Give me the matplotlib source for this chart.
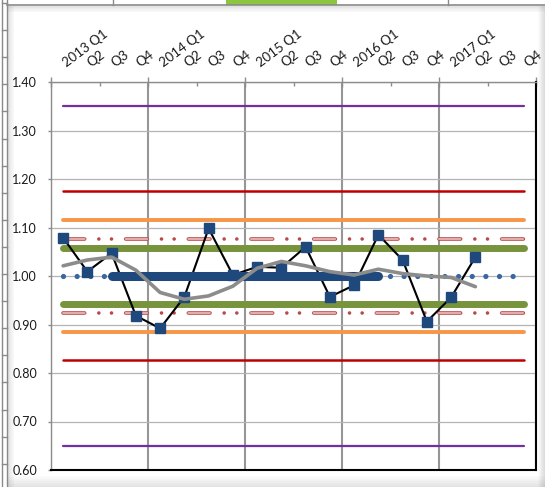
import matplotlib
matplotlib.use('Agg')
import matplotlib.pyplot as plt
import matplotlib.transforms as mtransforms
from matplotlib.patches import Rectangle
import numpy as np

plt.rcParams['font.family'] = ['Lato', 'DejaVu Sans']
plt.rcParams['lines.scale_dashes'] = False

# ---- data ----
quarters = ['2013 Q1', 'Q2', 'Q3', 'Q4',
            '2014 Q1', 'Q2', 'Q3', 'Q4',
            '2015 Q1', 'Q2', 'Q3', 'Q4',
            '2016 Q1', 'Q2', 'Q3', 'Q4',
            '2017 Q1', 'Q2', 'Q3', 'Q4']
index_values = [1.079, 1.009, 1.047, 0.918, 0.892, 0.957, 1.098, 1.002, 1.019,
                1.017, 1.060, 0.957, 0.981, 1.085, 1.033, 0.906, 0.956, 1.039]
moving_avg = [1.021, 1.033, 1.039, 1.012, 0.966, 0.952, 0.959, 0.979, 1.016,
              1.030, 1.021, 1.009, 1.002, 1.014, 1.005, 1.000, 0.997, 0.978]
centre = 1.00
baseline_first, baseline_last = 2, 13    # 2013 Q3 .. 2016 Q2 (thick band)
limits_15s = [1.058, 0.942]
limits_2s = [1.077, 0.923]
limits_3s = [1.116, 0.884]
limits_45s = [1.176, 0.826]
limits_9s = [1.350, 0.650]

n = len(quarters)
x = np.arange(n)

fig = plt.figure(figsize=(5.45, 4.87), dpi=100)

# ---- surrounding spreadsheet chrome (pixel coords) ----
deco = fig.add_axes([0, 0, 1, 1], zorder=0)
deco.set_xlim(0, 545)
deco.set_ylim(487, 0)
deco.axis('off')
for k in range(8):
    a = 0.22 * (1 - k / 8)
    deco.add_patch(Rectangle((8 + k * 0.8, 6), 0.8, 481, color='gray', alpha=a, lw=0))
    deco.add_patch(Rectangle((8, 6 + k * 0.8), 537, 0.8, color='gray', alpha=a, lw=0))
    deco.add_patch(Rectangle((545 - (k + 1) * 0.9, 6), 0.9, 481, color='gray', alpha=a * 1.2, lw=0))
    deco.add_patch(Rectangle((8, 487 - (k + 1) * 1.4), 537, 1.4, color='gray', alpha=a, lw=0))
deco.plot([7, 545], [5, 5], color='#8a8a8a', lw=1.2)
deco.plot([1.5, 1.5], [0, 487], color='#8a8a8a', lw=1)
deco.plot([7, 7], [0, 487], color='#8a8a8a', lw=1)
for yy in np.arange(3, 487, 27.1):
    deco.plot([1.5, 7], [yy, yy], color='#8a8a8a', lw=1)
for xx in [113, 448]:
    deco.plot([xx, xx], [0, 5], color='#8a8a8a', lw=1)
deco.add_patch(Rectangle((226, 0), 111, 4.5, color='#8cc641', lw=0))

# ---- chart ----
ax = fig.add_axes([51 / 545, 17 / 487, 485 / 545, 388 / 487], zorder=1)
ax.set_facecolor('white')

def pair(levels, **kw):
    for v in levels:
        ax.plot(x, [v] * n, solid_capstyle='round', **kw)

pair(limits_9s, color='#7030A0', lw=1.6, zorder=2)
pair(limits_45s, color='#C00000', lw=1.8, zorder=2)
pair(limits_3s, color='#F79646', lw=2.8, zorder=2)
for v in limits_2s:
    ax.plot(x, [v] * n, color='#B84A48', lw=2.6, dash_capstyle='round',
            linestyle=(0, (15.6, 10.2, 0.01, 9.1, 0.01, 10.2)), zorder=2)
    ax.plot(x, [v] * n, color='#E8B7B6', lw=1.3, dash_capstyle='round',
            linestyle=(0, (15.6, 29.5)), zorder=2)
pair(limits_15s, color='#77933C', lw=5.0, zorder=2)

ax.plot(x, [centre] * n, color='#3A67A0', lw=3.8, linestyle=(0, (0.01, 9.8)),
        dash_capstyle='round', zorder=3)
ax.plot(x[:len(index_values)], index_values, color='black', lw=1.5, marker='s',
        ms=7, mfc='#1F497D', mec='#1F497D', zorder=4)
bx = x[baseline_first:baseline_last + 1]
ax.plot(bx, [centre] * len(bx), color='#1F497D', lw=6.5, solid_capstyle='round', zorder=5)
ax.plot(x[:len(moving_avg)], moving_avg, color='#8C8C8C', lw=2.6,
        solid_capstyle='round', zorder=6)

ax.set_xlim(-0.5, n - 0.5)
ax.set_ylim(0.60, 1.40)
ax.set_yticks(np.arange(0.6, 1.401, 0.1))
ax.set_yticklabels([f'{v:.2f}' for v in np.arange(0.6, 1.401, 0.1)])
ax.yaxis.grid(True, color='#B4B4B4', lw=0.9)
ax.set_xticks(np.arange(-0.5, n, 4))
ax.set_xticks(np.arange(1.5, n, 4), minor=True)
ax.xaxis.grid(True, which='major', color='#969696', lw=1.5)
ax.set_axisbelow(True)
ax.xaxis.set_ticks_position('top')
ax.tick_params(axis='x', which='major', direction='inout', length=7, width=1,
               color='#8C8C8C', labeltop=False, labelbottom=False)
ax.tick_params(axis='x', which='minor', direction='in', length=3, width=1,
               color='#8C8C8C', labeltop=False, labelbottom=False)
ax.tick_params(axis='y', direction='out', length=2.5, width=1, color='#8C8C8C',
               pad=7.5, labelsize=9, labelcolor='#1a1a1a')
for s in ['top', 'left']:
    ax.spines[s].set_color('#8C8C8C')
    ax.spines[s].set_linewidth(1)
for s in ['bottom', 'right']:
    ax.spines[s].set_color('black')
    ax.spines[s].set_linewidth(1.5)

trans = mtransforms.offset_copy(ax.get_xaxis_transform(), fig=fig, x=4, y=15, units='dots')
for i, lab in enumerate(quarters):
    ax.text(i, 1.0, lab, transform=trans, rotation=37, rotation_mode='anchor',
            ha='left', va='baseline', fontsize=9.5, color='#1a1a1a', clip_on=False)

fig.savefig('out.png', dpi=100)
